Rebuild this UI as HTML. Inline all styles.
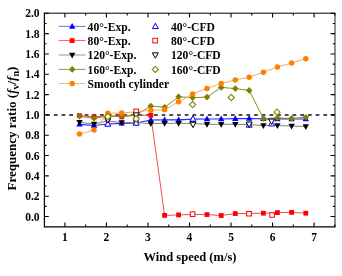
<!DOCTYPE html>
<html><head><meta charset="utf-8"><style>
html,body{margin:0;padding:0;background:#fff;}
svg{display:block;filter:blur(0.35px);}
text{font-family:"Liberation Serif",serif;font-weight:bold;fill:#000;}
.t{font-size:11.5px;}
.l{font-size:11.6px;}
.a{font-size:12.5px;}
.ay{font-size:13px;}
</style></head><body>
<svg width="342" height="276" viewBox="0 0 342 276">
<rect width="342" height="276" fill="#fff"/>
<line x1="46.2" y1="115.0" x2="335.0" y2="115.0" stroke="#111" stroke-width="1.3" stroke-dasharray="3.7 4.0"/>
<polyline points="79.50,124.30 94.00,125.50 107.80,124.00 121.70,123.30 136.00,123.00 150.80,120.00 164.60,119.90 178.60,119.90 192.60,119.20 207.00,119.00 221.20,119.00 235.30,118.70 249.20,118.50 263.40,118.80 277.40,118.90 291.60,119.00 305.80,119.00" fill="none" stroke="#2828ff" stroke-width="1.2"/>
<polyline points="79.50,115.60 94.00,116.80 107.80,115.80 121.70,116.90 136.00,115.20 150.80,115.30 164.60,215.40 178.60,214.90 192.60,214.50 207.00,214.60 221.20,215.50 235.30,213.60 249.20,213.40 263.40,213.20 277.40,212.60 291.60,212.40 305.80,213.20" fill="none" stroke="#f04c4c" stroke-width="1.0"/>
<polyline points="79.50,122.30 94.00,124.00 107.80,121.00 121.70,122.60 136.00,122.50 150.80,123.60 164.60,123.30 178.60,123.30 192.60,123.50 207.00,124.30 221.20,124.30 235.30,124.30 249.20,124.60 263.40,125.50 277.40,125.50 291.60,126.00 305.80,126.50" fill="none" stroke="#808080" stroke-width="1.0"/>
<polyline points="79.50,116.30 94.00,118.30 107.80,116.20 121.70,115.80 136.00,115.00 150.80,106.00 164.60,107.30 178.60,96.80 192.60,97.60 207.00,97.10 221.20,87.40 235.30,88.60 249.20,90.40 263.40,118.60 277.40,118.00 291.60,118.40 305.80,117.20" fill="none" stroke="#8c8c20" stroke-width="1.0"/>
<polyline points="79.50,134.10 94.00,130.00 107.80,113.20 121.70,113.00 136.00,111.80 150.80,110.20 164.60,109.80 178.60,101.80 192.60,94.10 207.00,88.40 221.20,83.60 235.30,79.90 249.20,77.20 263.40,72.20 277.40,67.00 291.60,63.00 305.80,58.70" fill="none" stroke="#f8a860" stroke-width="1.0"/>
<polygon points="79.50,120.84 76.30,126.60 82.70,126.60" fill="#0000ff" stroke="none" stroke-width="1"/>
<polygon points="94.00,122.04 90.80,127.80 97.20,127.80" fill="#0000ff" stroke="none" stroke-width="1"/>
<polygon points="107.80,120.54 104.60,126.30 111.00,126.30" fill="#0000ff" stroke="none" stroke-width="1"/>
<polygon points="121.70,119.84 118.50,125.60 124.90,125.60" fill="#0000ff" stroke="none" stroke-width="1"/>
<polygon points="136.00,119.54 132.80,125.30 139.20,125.30" fill="#0000ff" stroke="none" stroke-width="1"/>
<polygon points="150.80,116.54 147.60,122.30 154.00,122.30" fill="#0000ff" stroke="none" stroke-width="1"/>
<polygon points="164.60,116.44 161.40,122.20 167.80,122.20" fill="#0000ff" stroke="none" stroke-width="1"/>
<polygon points="178.60,116.44 175.40,122.20 181.80,122.20" fill="#0000ff" stroke="none" stroke-width="1"/>
<polygon points="192.60,115.74 189.40,121.50 195.80,121.50" fill="#0000ff" stroke="none" stroke-width="1"/>
<polygon points="207.00,115.54 203.80,121.30 210.20,121.30" fill="#0000ff" stroke="none" stroke-width="1"/>
<polygon points="221.20,115.54 218.00,121.30 224.40,121.30" fill="#0000ff" stroke="none" stroke-width="1"/>
<polygon points="235.30,115.24 232.10,121.00 238.50,121.00" fill="#0000ff" stroke="none" stroke-width="1"/>
<polygon points="249.20,115.04 246.00,120.80 252.40,120.80" fill="#0000ff" stroke="none" stroke-width="1"/>
<polygon points="263.40,115.34 260.20,121.10 266.60,121.10" fill="#0000ff" stroke="none" stroke-width="1"/>
<polygon points="277.40,115.44 274.20,121.20 280.60,121.20" fill="#0000ff" stroke="none" stroke-width="1"/>
<polygon points="291.60,115.54 288.40,121.30 294.80,121.30" fill="#0000ff" stroke="none" stroke-width="1"/>
<polygon points="305.80,115.54 302.60,121.30 309.00,121.30" fill="#0000ff" stroke="none" stroke-width="1"/>
<rect x="77.10" y="113.20" width="4.8" height="4.8" fill="#ff0000" stroke="none" stroke-width="1"/>
<rect x="91.60" y="114.40" width="4.8" height="4.8" fill="#ff0000" stroke="none" stroke-width="1"/>
<rect x="105.40" y="113.40" width="4.8" height="4.8" fill="#ff0000" stroke="none" stroke-width="1"/>
<rect x="119.30" y="114.50" width="4.8" height="4.8" fill="#ff0000" stroke="none" stroke-width="1"/>
<rect x="133.60" y="112.80" width="4.8" height="4.8" fill="#ff0000" stroke="none" stroke-width="1"/>
<rect x="148.40" y="112.90" width="4.8" height="4.8" fill="#ff0000" stroke="none" stroke-width="1"/>
<rect x="162.20" y="213.00" width="4.8" height="4.8" fill="#ff0000" stroke="none" stroke-width="1"/>
<rect x="176.20" y="212.50" width="4.8" height="4.8" fill="#ff0000" stroke="none" stroke-width="1"/>
<rect x="190.20" y="212.10" width="4.8" height="4.8" fill="#ff0000" stroke="none" stroke-width="1"/>
<rect x="204.60" y="212.20" width="4.8" height="4.8" fill="#ff0000" stroke="none" stroke-width="1"/>
<rect x="218.80" y="213.10" width="4.8" height="4.8" fill="#ff0000" stroke="none" stroke-width="1"/>
<rect x="232.90" y="211.20" width="4.8" height="4.8" fill="#ff0000" stroke="none" stroke-width="1"/>
<rect x="246.80" y="211.00" width="4.8" height="4.8" fill="#ff0000" stroke="none" stroke-width="1"/>
<rect x="261.00" y="210.80" width="4.8" height="4.8" fill="#ff0000" stroke="none" stroke-width="1"/>
<rect x="275.00" y="210.20" width="4.8" height="4.8" fill="#ff0000" stroke="none" stroke-width="1"/>
<rect x="289.20" y="210.00" width="4.8" height="4.8" fill="#ff0000" stroke="none" stroke-width="1"/>
<rect x="303.40" y="210.80" width="4.8" height="4.8" fill="#ff0000" stroke="none" stroke-width="1"/>
<polygon points="79.50,125.76 76.30,120.00 82.70,120.00" fill="#000000" stroke="none" stroke-width="1"/>
<polygon points="94.00,127.46 90.80,121.70 97.20,121.70" fill="#000000" stroke="none" stroke-width="1"/>
<polygon points="107.80,124.46 104.60,118.70 111.00,118.70" fill="#000000" stroke="none" stroke-width="1"/>
<polygon points="121.70,126.06 118.50,120.30 124.90,120.30" fill="#000000" stroke="none" stroke-width="1"/>
<polygon points="136.00,125.96 132.80,120.20 139.20,120.20" fill="#000000" stroke="none" stroke-width="1"/>
<polygon points="150.80,127.06 147.60,121.30 154.00,121.30" fill="#000000" stroke="none" stroke-width="1"/>
<polygon points="164.60,126.76 161.40,121.00 167.80,121.00" fill="#000000" stroke="none" stroke-width="1"/>
<polygon points="178.60,126.76 175.40,121.00 181.80,121.00" fill="#000000" stroke="none" stroke-width="1"/>
<polygon points="192.60,126.96 189.40,121.20 195.80,121.20" fill="#000000" stroke="none" stroke-width="1"/>
<polygon points="207.00,127.76 203.80,122.00 210.20,122.00" fill="#000000" stroke="none" stroke-width="1"/>
<polygon points="221.20,127.76 218.00,122.00 224.40,122.00" fill="#000000" stroke="none" stroke-width="1"/>
<polygon points="235.30,127.76 232.10,122.00 238.50,122.00" fill="#000000" stroke="none" stroke-width="1"/>
<polygon points="249.20,128.06 246.00,122.30 252.40,122.30" fill="#000000" stroke="none" stroke-width="1"/>
<polygon points="263.40,128.96 260.20,123.20 266.60,123.20" fill="#000000" stroke="none" stroke-width="1"/>
<polygon points="277.40,128.96 274.20,123.20 280.60,123.20" fill="#000000" stroke="none" stroke-width="1"/>
<polygon points="291.60,129.46 288.40,123.70 294.80,123.70" fill="#000000" stroke="none" stroke-width="1"/>
<polygon points="305.80,129.96 302.60,124.20 309.00,124.20" fill="#000000" stroke="none" stroke-width="1"/>
<polygon points="79.50,113.00 82.80,116.30 79.50,119.60 76.20,116.30" fill="#808000" stroke="none" stroke-width="1"/>
<polygon points="94.00,115.00 97.30,118.30 94.00,121.60 90.70,118.30" fill="#808000" stroke="none" stroke-width="1"/>
<polygon points="107.80,112.90 111.10,116.20 107.80,119.50 104.50,116.20" fill="#808000" stroke="none" stroke-width="1"/>
<polygon points="121.70,112.50 125.00,115.80 121.70,119.10 118.40,115.80" fill="#808000" stroke="none" stroke-width="1"/>
<polygon points="136.00,111.70 139.30,115.00 136.00,118.30 132.70,115.00" fill="#808000" stroke="none" stroke-width="1"/>
<polygon points="150.80,102.70 154.10,106.00 150.80,109.30 147.50,106.00" fill="#808000" stroke="none" stroke-width="1"/>
<polygon points="164.60,104.00 167.90,107.30 164.60,110.60 161.30,107.30" fill="#808000" stroke="none" stroke-width="1"/>
<polygon points="178.60,93.50 181.90,96.80 178.60,100.10 175.30,96.80" fill="#808000" stroke="none" stroke-width="1"/>
<polygon points="192.60,94.30 195.90,97.60 192.60,100.90 189.30,97.60" fill="#808000" stroke="none" stroke-width="1"/>
<polygon points="207.00,93.80 210.30,97.10 207.00,100.40 203.70,97.10" fill="#808000" stroke="none" stroke-width="1"/>
<polygon points="221.20,84.10 224.50,87.40 221.20,90.70 217.90,87.40" fill="#808000" stroke="none" stroke-width="1"/>
<polygon points="235.30,85.30 238.60,88.60 235.30,91.90 232.00,88.60" fill="#808000" stroke="none" stroke-width="1"/>
<polygon points="249.20,87.10 252.50,90.40 249.20,93.70 245.90,90.40" fill="#808000" stroke="none" stroke-width="1"/>
<polygon points="263.40,115.30 266.70,118.60 263.40,121.90 260.10,118.60" fill="#808000" stroke="none" stroke-width="1"/>
<polygon points="277.40,114.70 280.70,118.00 277.40,121.30 274.10,118.00" fill="#808000" stroke="none" stroke-width="1"/>
<polygon points="291.60,115.10 294.90,118.40 291.60,121.70 288.30,118.40" fill="#808000" stroke="none" stroke-width="1"/>
<polygon points="305.80,113.90 309.10,117.20 305.80,120.50 302.50,117.20" fill="#808000" stroke="none" stroke-width="1"/>
<circle cx="79.50" cy="134.10" r="2.75" fill="#ff8000"/>
<circle cx="94.00" cy="130.00" r="2.75" fill="#ff8000"/>
<circle cx="107.80" cy="113.20" r="2.75" fill="#ff8000"/>
<circle cx="121.70" cy="113.00" r="2.75" fill="#ff8000"/>
<circle cx="136.00" cy="111.80" r="2.75" fill="#ff8000"/>
<circle cx="150.80" cy="110.20" r="2.75" fill="#ff8000"/>
<circle cx="164.60" cy="109.80" r="2.75" fill="#ff8000"/>
<circle cx="178.60" cy="101.80" r="2.75" fill="#ff8000"/>
<circle cx="192.60" cy="94.10" r="2.75" fill="#ff8000"/>
<circle cx="207.00" cy="88.40" r="2.75" fill="#ff8000"/>
<circle cx="221.20" cy="83.60" r="2.75" fill="#ff8000"/>
<circle cx="235.30" cy="79.90" r="2.75" fill="#ff8000"/>
<circle cx="249.20" cy="77.20" r="2.75" fill="#ff8000"/>
<circle cx="263.40" cy="72.20" r="2.75" fill="#ff8000"/>
<circle cx="277.40" cy="67.00" r="2.75" fill="#ff8000"/>
<circle cx="291.60" cy="63.00" r="2.75" fill="#ff8000"/>
<circle cx="305.80" cy="58.70" r="2.75" fill="#ff8000"/>
<polygon points="107.80,120.76 104.80,126.16 110.80,126.16" fill="#fff" stroke="#0000ff" stroke-width="1.0"/>
<polygon points="136.20,119.76 133.20,125.16 139.20,125.16" fill="#fff" stroke="#0000ff" stroke-width="1.0"/>
<polygon points="193.00,115.76 190.00,121.16 196.00,121.16" fill="#fff" stroke="#0000ff" stroke-width="1.0"/>
<polygon points="249.20,121.76 246.20,127.16 252.20,127.16" fill="#fff" stroke="#0000ff" stroke-width="1.0"/>
<polygon points="271.60,120.56 268.60,125.96 274.60,125.96" fill="#fff" stroke="#0000ff" stroke-width="1.0"/>
<rect x="133.90" y="109.10" width="4.6" height="4.6" fill="#fff" stroke="#ff0000" stroke-width="1.0"/>
<rect x="190.30" y="211.90" width="4.6" height="4.6" fill="#fff" stroke="#ff0000" stroke-width="1.0"/>
<rect x="246.70" y="211.40" width="4.6" height="4.6" fill="#fff" stroke="#ff0000" stroke-width="1.0"/>
<rect x="269.80" y="212.70" width="4.6" height="4.6" fill="#fff" stroke="#ff0000" stroke-width="1.0"/>
<polygon points="107.80,123.04 104.80,117.64 110.80,117.64" fill="#fff" stroke="#000000" stroke-width="1.0"/>
<polygon points="136.20,118.24 133.20,112.84 139.20,112.84" fill="#fff" stroke="#000000" stroke-width="1.0"/>
<polygon points="193.00,127.64 190.00,122.24 196.00,122.24" fill="#fff" stroke="#000000" stroke-width="1.0"/>
<polygon points="249.20,127.44 246.20,122.04 252.20,122.04" fill="#fff" stroke="#000000" stroke-width="1.0"/>
<polygon points="271.60,124.44 268.60,119.04 274.60,119.04" fill="#fff" stroke="#000000" stroke-width="1.0"/>
<polygon points="107.80,113.50 110.90,116.60 107.80,119.70 104.70,116.60" fill="#fff" stroke="#8a8a18" stroke-width="1.2"/>
<polygon points="136.20,115.70 139.30,118.80 136.20,121.90 133.10,118.80" fill="#fff" stroke="#8a8a18" stroke-width="1.2"/>
<polygon points="192.60,101.50 195.70,104.60 192.60,107.70 189.50,104.60" fill="#fff" stroke="#8a8a18" stroke-width="1.2"/>
<polygon points="231.20,94.40 234.30,97.50 231.20,100.60 228.10,97.50" fill="#fff" stroke="#8a8a18" stroke-width="1.2"/>
<polygon points="277.00,109.10 280.10,112.20 277.00,115.30 273.90,112.20" fill="#fff" stroke="#8a8a18" stroke-width="1.2"/>
<path d="M44.4,12.7V227.4M43.8,226.8H335.5" fill="none" stroke="#000" stroke-width="1.2"/>
<path d="M43.8,13.2H335.5" fill="none" stroke="#000" stroke-width="1.0"/>
<path d="M335.0,13.2V226.8" fill="none" stroke="#333" stroke-width="1.1"/>
<path d="M44.40,216.50h4.4 M335.00,216.50h-4.4 M44.40,206.34h2.2 M335.00,206.34h-2.2 M44.40,196.18h4.4 M335.00,196.18h-4.4 M44.40,186.02h2.2 M335.00,186.02h-2.2 M44.40,175.86h4.4 M335.00,175.86h-4.4 M44.40,165.70h2.2 M335.00,165.70h-2.2 M44.40,155.54h4.4 M335.00,155.54h-4.4 M44.40,145.38h2.2 M335.00,145.38h-2.2 M44.40,135.22h4.4 M335.00,135.22h-4.4 M44.40,125.06h2.2 M335.00,125.06h-2.2 M44.40,114.90h4.4 M335.00,114.90h-4.4 M44.40,104.74h2.2 M335.00,104.74h-2.2 M44.40,94.58h4.4 M335.00,94.58h-4.4 M44.40,84.42h2.2 M335.00,84.42h-2.2 M44.40,74.26h4.4 M335.00,74.26h-4.4 M44.40,64.10h2.2 M335.00,64.10h-2.2 M44.40,53.94h4.4 M335.00,53.94h-4.4 M44.40,43.78h2.2 M335.00,43.78h-2.2 M44.40,33.62h4.4 M335.00,33.62h-4.4 M44.40,23.46h2.2 M335.00,23.46h-2.2 M44.40,13.30h4.4 M335.00,13.30h-4.4 M64.90,226.80v-4.4 M64.90,13.20v4.4 M85.67,226.80v-2.2 M85.67,13.20v2.2 M106.43,226.80v-4.4 M106.43,13.20v4.4 M127.20,226.80v-2.2 M127.20,13.20v2.2 M147.96,226.80v-4.4 M147.96,13.20v4.4 M168.73,226.80v-2.2 M168.73,13.20v2.2 M189.49,226.80v-4.4 M189.49,13.20v4.4 M210.26,226.80v-2.2 M210.26,13.20v2.2 M231.02,226.80v-4.4 M231.02,13.20v4.4 M251.78,226.80v-2.2 M251.78,13.20v2.2 M272.55,226.80v-4.4 M272.55,13.20v4.4 M293.32,226.80v-2.2 M293.32,13.20v2.2 M314.08,226.80v-4.4 M314.08,13.20v4.4 M334.85,226.80v-2.2 M334.85,13.20v2.2" stroke="#000" stroke-width="1.1" fill="none"/>
<text x="39.5" y="220.50" text-anchor="end" class="t">0.0</text>
<text x="39.5" y="200.18" text-anchor="end" class="t">0.2</text>
<text x="39.5" y="179.86" text-anchor="end" class="t">0.4</text>
<text x="39.5" y="159.54" text-anchor="end" class="t">0.6</text>
<text x="39.5" y="139.22" text-anchor="end" class="t">0.8</text>
<text x="39.5" y="118.90" text-anchor="end" class="t">1.0</text>
<text x="39.5" y="98.58" text-anchor="end" class="t">1.2</text>
<text x="39.5" y="78.26" text-anchor="end" class="t">1.4</text>
<text x="39.5" y="57.94" text-anchor="end" class="t">1.6</text>
<text x="39.5" y="37.62" text-anchor="end" class="t">1.8</text>
<text x="39.5" y="17.30" text-anchor="end" class="t">2.0</text>
<text x="64.90" y="241.4" text-anchor="middle" class="t">1</text>
<text x="106.43" y="241.4" text-anchor="middle" class="t">2</text>
<text x="147.96" y="241.4" text-anchor="middle" class="t">3</text>
<text x="189.49" y="241.4" text-anchor="middle" class="t">4</text>
<text x="231.02" y="241.4" text-anchor="middle" class="t">5</text>
<text x="272.55" y="241.4" text-anchor="middle" class="t">6</text>
<text x="314.08" y="241.4" text-anchor="middle" class="t">7</text>
<text x="190" y="261.2" text-anchor="middle" class="a">Wind speed (m/s)</text>
<text transform="translate(16.2,128.5) rotate(-90)" text-anchor="middle" class="ay">Frequency ratio (<tspan font-style="italic">f</tspan><tspan font-size="10" dy="2.6">v</tspan><tspan dy="-2.6">/</tspan><tspan font-style="italic">f</tspan><tspan font-size="10" dy="2.6">n</tspan><tspan dy="-2.6">)</tspan></text>
<line x1="58.7" y1="26.4" x2="85.6" y2="26.4" stroke="#7070ea" stroke-width="1"/>
<line x1="58.7" y1="40.6" x2="85.6" y2="40.6" stroke="#f06464" stroke-width="1"/>
<line x1="58.7" y1="55.0" x2="85.6" y2="55.0" stroke="#959595" stroke-width="1"/>
<line x1="58.7" y1="69.4" x2="85.6" y2="69.4" stroke="#9a9a38" stroke-width="1"/>
<line x1="58.7" y1="83.6" x2="85.6" y2="83.6" stroke="#f8b478" stroke-width="1"/>
<polygon points="72.20,22.94 69.00,28.70 75.40,28.70" fill="#0000ff" stroke="none" stroke-width="1"/>
<rect x="69.70" y="38.20" width="4.8" height="4.8" fill="#ff0000" stroke="none" stroke-width="1"/>
<polygon points="72.20,58.46 69.00,52.70 75.40,52.70" fill="#000000" stroke="none" stroke-width="1"/>
<polygon points="72.20,66.10 75.50,69.40 72.20,72.70 68.90,69.40" fill="#808000" stroke="none" stroke-width="1"/>
<circle cx="72.20" cy="83.60" r="2.75" fill="#ff8000"/>
<polygon points="155.40,23.16 152.40,28.56 158.40,28.56" fill="#fff" stroke="#0000ff" stroke-width="1.0"/>
<rect x="152.80" y="38.30" width="4.6" height="4.6" fill="#fff" stroke="#ff0000" stroke-width="1.0"/>
<polygon points="155.30,58.24 152.30,52.84 158.30,52.84" fill="#fff" stroke="#000000" stroke-width="1.0"/>
<polygon points="155.30,66.30 158.40,69.40 155.30,72.50 152.20,69.40" fill="#fff" stroke="#8a8a18" stroke-width="1.2"/>
<text x="87.6" y="30.70" class="l">40°-Exp.</text>
<text x="87.6" y="44.90" class="l">80°-Exp.</text>
<text x="87.6" y="59.30" class="l">120°-Exp.</text>
<text x="87.6" y="73.70" class="l">160°-Exp.</text>
<text x="87.6" y="87.90" class="l">Smooth cylinder</text>
<text x="171.0" y="30.70" class="l">40°-CFD</text>
<text x="171.0" y="44.90" class="l">80°-CFD</text>
<text x="171.0" y="59.30" class="l">120°-CFD</text>
<text x="171.0" y="73.70" class="l">160°-CFD</text>
</svg>
</body></html>
